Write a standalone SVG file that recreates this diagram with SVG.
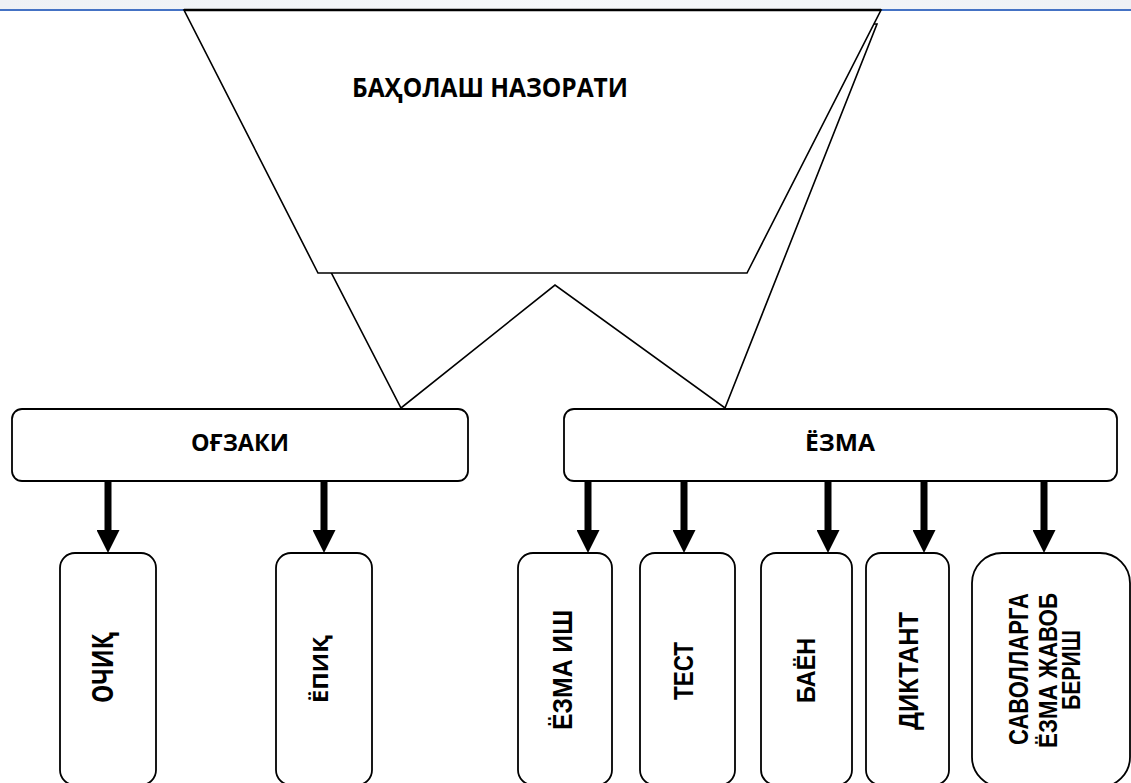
<svg xmlns="http://www.w3.org/2000/svg" width="1131" height="783" viewBox="0 0 1131 783">
<style>
.shape{fill:#fff;stroke:#000;stroke-width:1.6}
.box{fill:#fff;stroke:#000;stroke-width:1.8}
.lbl{font-family:"Open Sans","Liberation Sans",sans-serif;font-weight:bold;fill:#000}
.vl{font-family:"Liberation Sans",Arial,sans-serif;font-weight:bold;fill:#000}
.arr{stroke:#000;stroke-width:7;fill:none}
</style>
<defs>
<linearGradient id="bg" x1="0" y1="0" x2="1" y2="0">
<stop offset="0" stop-color="#eef1f5"/><stop offset="0.5" stop-color="#f6f8fa"/><stop offset="1" stop-color="#eef1f5"/>
</linearGradient>
<marker id="ah" markerUnits="userSpaceOnUse" markerWidth="23" markerHeight="23" refX="0" refY="11.5" orient="auto">
<path d="M0,0 L23,11.5 L0,23 Z" fill="#000"/>
</marker>
</defs>
<rect x="0" y="0" width="1131" height="10" fill="url(#bg)"/>
<line x1="0" y1="10" x2="1131" y2="10" stroke="#4472C4" stroke-width="2"/>

<g id="notch-shape">
<polygon class="shape" points="203,24 877,24 725,408 555,285 401,408"/>
</g>
<g id="node-bahólash">
<polygon class="shape" points="184,10 881,10 747,273 318,273"/>
<line x1="184" y1="10" x2="881" y2="10" stroke="#000" stroke-width="2.5"/>
<text class="lbl" x="490" y="97" font-size="27" text-anchor="middle" textLength="276" lengthAdjust="spacingAndGlyphs">БАҲОЛАШ НАЗОРАТИ</text>
</g>

<g id="node-oghzaki">
<rect class="box" x="12" y="409" width="456" height="72" rx="10"/>
<text class="lbl" x="240" y="451" font-size="24" text-anchor="middle" textLength="98" lengthAdjust="spacingAndGlyphs">ОҒЗАКИ</text>
</g>
<g id="node-yozma">
<rect class="box" x="564" y="409" width="553" height="72" rx="10"/>
<text class="lbl" x="840" y="451" font-size="24" text-anchor="middle" textLength="70" lengthAdjust="spacingAndGlyphs">ЁЗМА</text>
</g>

<g id="connectors">
<line class="arr" x1="108" y1="481" x2="108" y2="530" marker-end="url(#ah)"/>
<line class="arr" x1="324" y1="481" x2="324" y2="530" marker-end="url(#ah)"/>
<line class="arr" x1="588" y1="481" x2="588" y2="530" marker-end="url(#ah)"/>
<line class="arr" x1="684" y1="481" x2="684" y2="530" marker-end="url(#ah)"/>
<line class="arr" x1="828" y1="481" x2="828" y2="530" marker-end="url(#ah)"/>
<line class="arr" x1="924" y1="481" x2="924" y2="530" marker-end="url(#ah)"/>
<line class="arr" x1="1044" y1="481" x2="1044" y2="530" marker-end="url(#ah)"/>
</g>

<g id="node-ochiq">
<rect class="box" x="60" y="553" width="96" height="232" rx="15"/>
<text class="lbl" transform="translate(113,667.5) rotate(-90)" font-size="28" text-anchor="middle" textLength="71" lengthAdjust="spacingAndGlyphs">ОЧИҚ</text>
</g>
<g id="node-yopiq">
<rect class="box" x="276" y="553" width="96" height="232" rx="15"/>
<text class="lbl" transform="translate(328,669) rotate(-90)" font-size="21" text-anchor="middle" textLength="68" lengthAdjust="spacingAndGlyphs">ЁПИҚ</text>
</g>
<g id="node-yozma-ish">
<rect class="box" x="518" y="553" width="94" height="232" rx="15"/>
<text class="vl" transform="translate(572,670) rotate(-90)" font-size="27" text-anchor="middle" textLength="120" lengthAdjust="spacingAndGlyphs">ЁЗМА ИШ</text>
</g>
<g id="node-test">
<rect class="box" x="640" y="553" width="95" height="232" rx="15"/>
<text class="vl" transform="translate(693,671) rotate(-90)" font-size="27" text-anchor="middle" textLength="58" lengthAdjust="spacingAndGlyphs">ТЕСТ</text>
</g>
<g id="node-bayon">
<rect class="box" x="761" y="553" width="91" height="232" rx="15"/>
<text class="vl" transform="translate(815,670.5) rotate(-90)" font-size="26" text-anchor="middle" textLength="65" lengthAdjust="spacingAndGlyphs">БАЁН</text>
</g>
<g id="node-diktant">
<rect class="box" x="866" y="553" width="83" height="232" rx="15"/>
<text class="vl" transform="translate(918,671) rotate(-90)" font-size="27" text-anchor="middle" textLength="118" lengthAdjust="spacingAndGlyphs">ДИКТАНТ</text>
</g>
<g id="node-savollarga">
<rect class="box" x="972" y="553" width="158" height="234" rx="30"/>
<text class="vl" transform="translate(1028,669) rotate(-90)" font-size="27" text-anchor="middle" textLength="152" lengthAdjust="spacingAndGlyphs">САВОЛЛАРГА</text>
<text class="vl" transform="translate(1057,670.5) rotate(-90)" font-size="26" text-anchor="middle" textLength="155" lengthAdjust="spacingAndGlyphs">ЁЗМА ЖАВОБ</text>
<text class="vl" transform="translate(1080,670) rotate(-90)" font-size="26" text-anchor="middle" textLength="80" lengthAdjust="spacingAndGlyphs">БЕРИШ</text>
</g>
</svg>
